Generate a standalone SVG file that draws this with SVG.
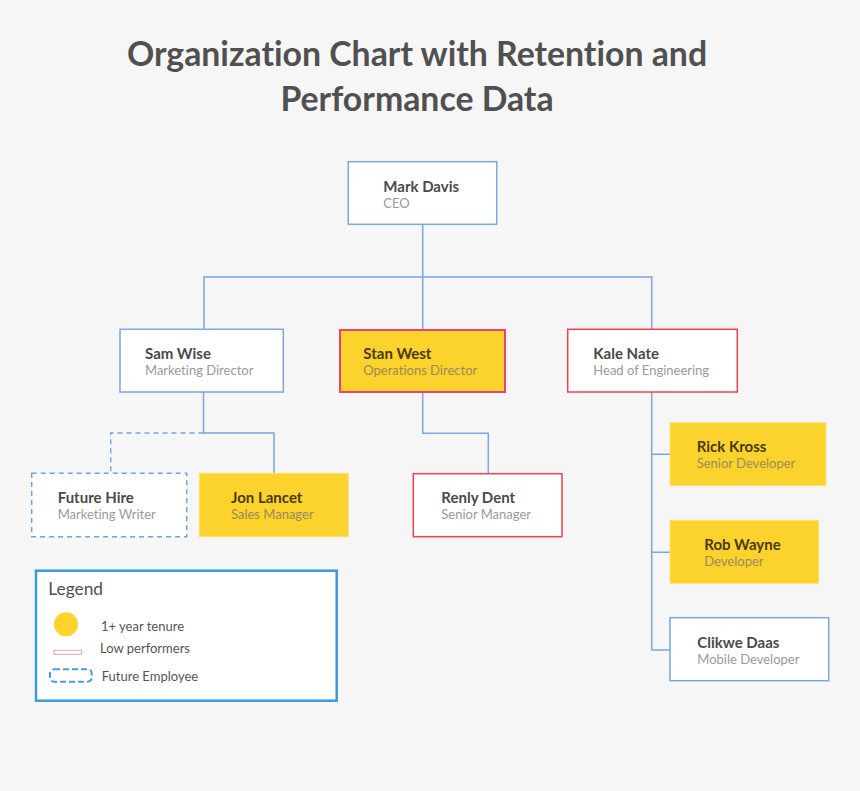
<svg xmlns="http://www.w3.org/2000/svg" width="860" height="791" viewBox="0 0 860 791">
<style>
text{font-variant-ligatures:none}
.bg{fill:#f6f6f6}
.title{font-family:Lato,"Liberation Sans",sans-serif;font-weight:bold;font-size:33.8px;fill:#505050;text-anchor:middle}
.box{fill:#ffffff;stroke:#7aa7dc;stroke-width:1.5}
.low{fill:#ffffff;stroke:#f2404f;stroke-width:1.5}
.gold{fill:#fcd22c;stroke:#fbe07a;stroke-width:1}
.goldlow{fill:#fcd22c;stroke:#f2406a;stroke-width:2}
.future{fill:#ffffff;stroke:#6fa3dc;stroke-width:1.5;stroke-dasharray:5 4}
.name{font-family:Lato,"Liberation Sans",sans-serif;font-weight:bold;font-size:15px;fill:#4a4a4a}
.role{font-family:Lato,"Liberation Sans",sans-serif;font-size:13px;fill:#9a9a9a}
.gname{font-family:Lato,"Liberation Sans",sans-serif;font-weight:bold;font-size:15px;fill:#4a3a12}
.grole{font-family:Lato,"Liberation Sans",sans-serif;font-size:13px;fill:#9a8b5c}
.conn{fill:none;stroke:#7aa7dc;stroke-width:1.5}
.dconn{fill:none;stroke:#7aa7dc;stroke-width:1.5;stroke-dasharray:5 4}
.leg{font-family:Lato,"Liberation Sans",sans-serif;font-size:13px;fill:#555555}
</style>
<rect class="bg" x="0" y="0" width="860" height="791"/>
<text class="title" x="417" y="65.5">Organization Chart with Retention and</text>
<text class="title" x="417" y="111">Performance Data</text>

<g id="connectors">
<path class="conn" d="M422.7,224 V277 M204,329.5 V277 H651.7 V329.5 M422.7,277 V330"/>
<path class="conn" d="M203.5,392 V433 H274 V473.5"/>
<path class="dconn" d="M203.5,433 H110.7 V473.5"/>
<path class="conn" d="M422.7,392 V433.3 H488.3 V474"/>
<path class="conn" d="M651.7,392 V650 H670 M651.7,454.3 H670 M651.7,552.3 H670"/>
</g>

<g id="mark-davis">
<rect class="box" x="348.3" y="161.7" width="148.4" height="62.6"/>
<text class="name" x="383.3" y="191.5">Mark Davis</text>
<text class="role" x="383.3" y="207.5">CEO</text>
</g>
<g id="sam-wise">
<rect class="box" x="120" y="329.3" width="163.3" height="62.7"/>
<text class="name" x="145" y="359">Sam Wise</text>
<text class="role" x="145" y="375">Marketing Director</text>
</g>
<g id="stan-west">
<rect class="goldlow" x="340" y="330" width="165" height="62"/>
<text class="gname" x="363.3" y="359">Stan West</text>
<text class="grole" x="363.3" y="375">Operations Director</text>
</g>
<g id="kale-nate">
<rect class="low" x="567.7" y="329.3" width="169.6" height="62.7"/>
<text class="name" x="593.3" y="359">Kale Nate</text>
<text class="role" x="593.3" y="375">Head of Engineering</text>
</g>
<g id="future-hire">
<rect class="future" x="31.7" y="473.3" width="155" height="63.4"/>
<text class="name" x="57.7" y="503.3">Future Hire</text>
<text class="role" x="57.7" y="519.3">Marketing Writer</text>
</g>
<g id="jon-lancet">
<rect class="gold" x="199.3" y="473.3" width="149" height="63.4"/>
<text class="gname" x="231" y="503.3">Jon Lancet</text>
<text class="grole" x="231" y="519.3">Sales Manager</text>
</g>
<g id="renly-dent">
<rect class="low" x="413.3" y="473.7" width="148.7" height="63"/>
<text class="name" x="441.3" y="503.3">Renly Dent</text>
<text class="role" x="441.3" y="519.3">Senior Manager</text>
</g>
<g id="rick-kross">
<rect class="gold" x="670" y="422.7" width="156" height="63"/>
<text class="gname" x="696.7" y="452.3">Rick Kross</text>
<text class="grole" x="696.7" y="468.3">Senior Developer</text>
</g>
<g id="rob-wayne">
<rect class="gold" x="670" y="520.3" width="148.7" height="63"/>
<text class="gname" x="704.3" y="550.3">Rob Wayne</text>
<text class="grole" x="704.3" y="566.3">Developer</text>
</g>
<g id="clikwe-daas">
<rect class="box" x="670" y="617.7" width="158.7" height="63"/>
<text class="name" x="697.3" y="648">Clikwe Daas</text>
<text class="role" x="697.3" y="664">Mobile Developer</text>
</g>

<g id="legend">
<rect x="36" y="570.7" width="300.7" height="130" fill="#ffffff" stroke="#3d9ad9" stroke-width="2.5"/>
<text x="48.3" y="594.5" font-family="Lato, 'Liberation Sans', sans-serif" font-size="17.3px" fill="#505050">Legend</text>
<circle cx="66" cy="624.3" r="12" fill="#fcd22c"/>
<text class="leg" x="101" y="630.5">1+ year tenure</text>
<rect x="54" y="650.3" width="27.7" height="4" fill="#ffffff" stroke="#f5a0a8" stroke-width="1"/>
<text class="leg" x="100" y="652.8">Low performers</text>
<rect x="50" y="669.3" width="41.7" height="12.4" rx="4" fill="none" stroke="#4a9de0" stroke-width="2" stroke-dasharray="6 3"/>
<text class="leg" x="101.7" y="681.3">Future Employee</text>
</g>
</svg>
